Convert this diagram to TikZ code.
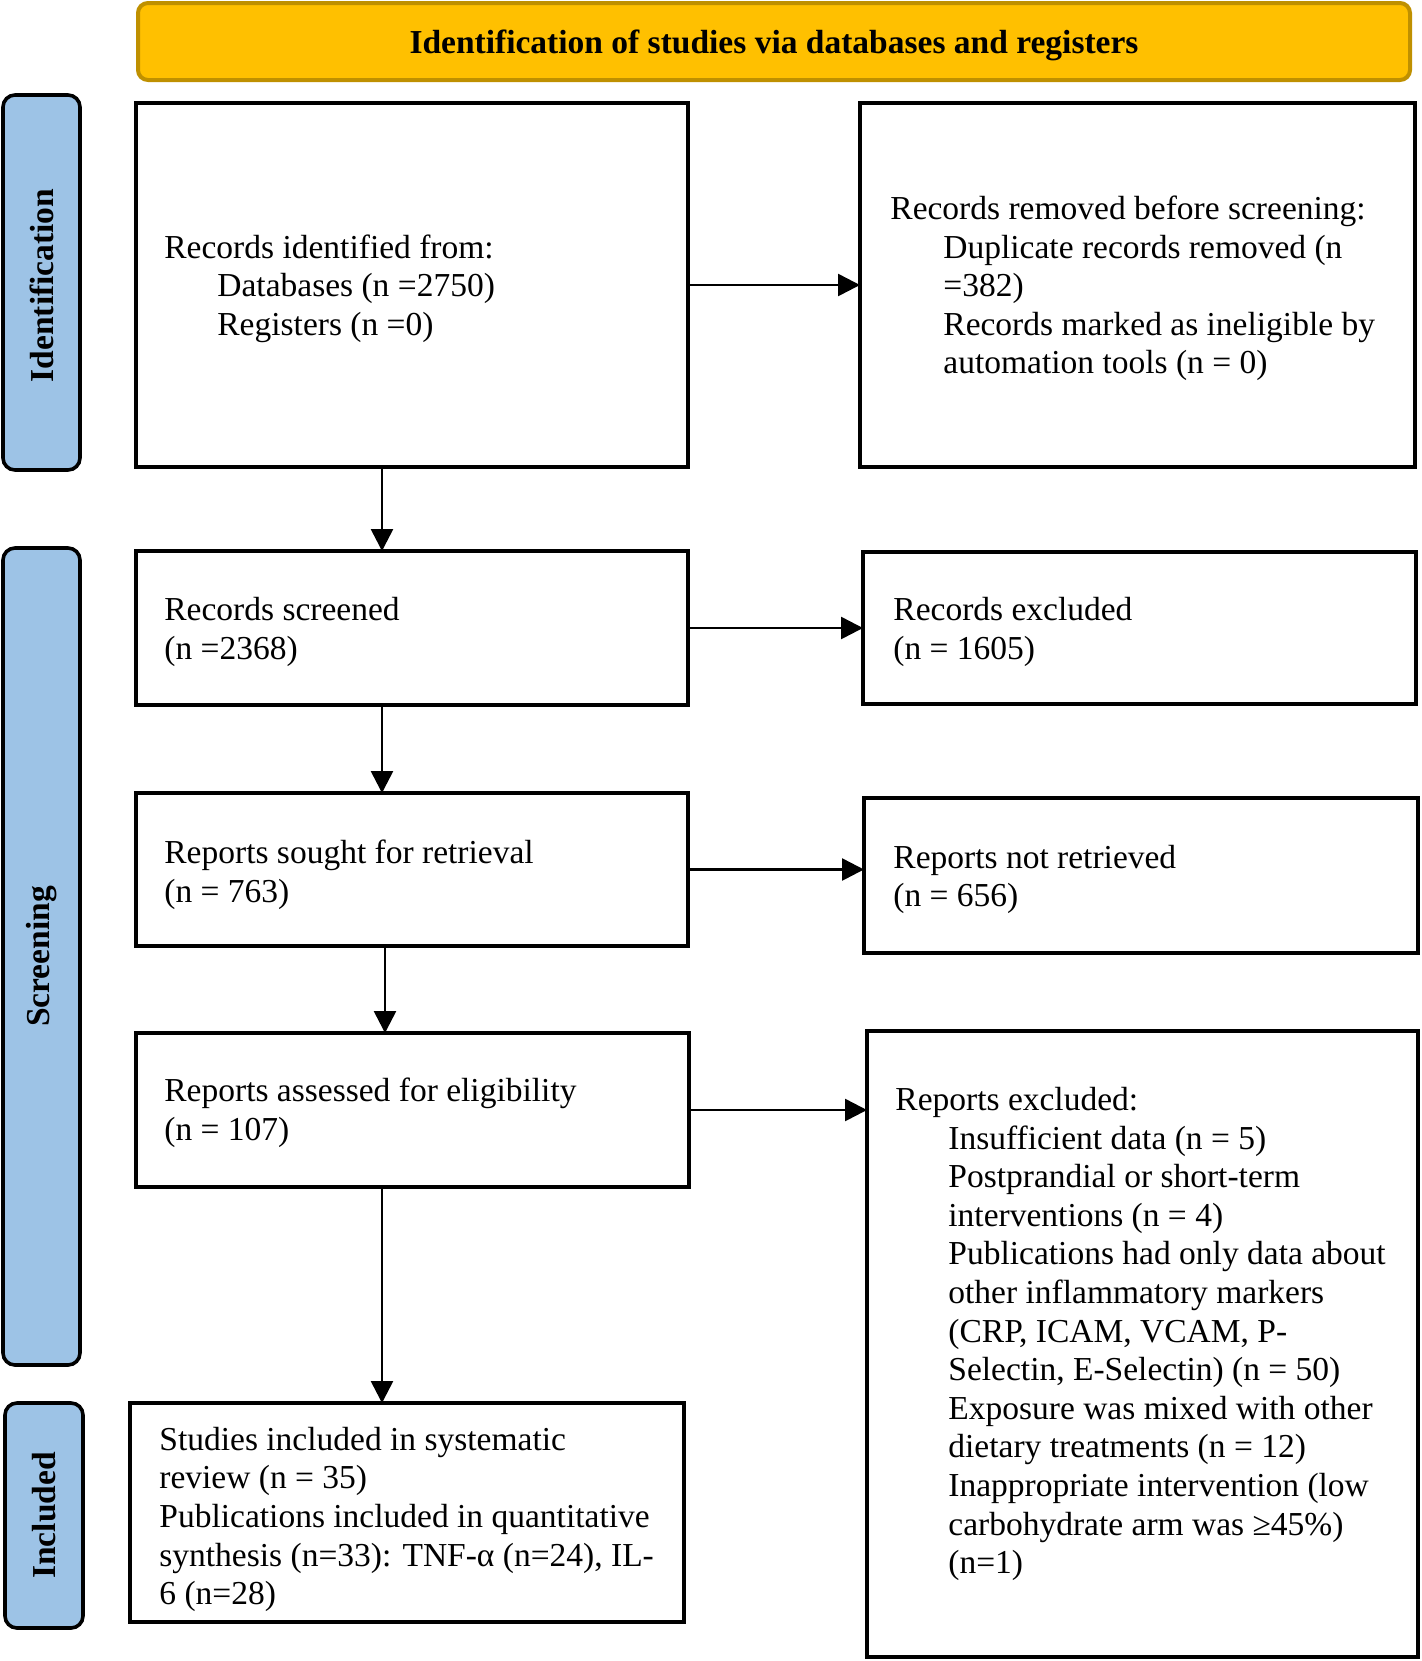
\documentclass[tikz,border=0pt]{standalone}
\usepackage{fontspec}
\setmainfont{Liberation Serif}
\usetikzlibrary{arrows.meta}
\definecolor{gold}{HTML}{FFC000}
\definecolor{goldline}{HTML}{BF9000}
\definecolor{sideblue}{HTML}{9DC3E6}
\begin{document}
\begin{tikzpicture}[x=0.5pt,y=-0.5pt,
  box/.style={draw, line width=2pt, inner sep=0pt, outer sep=0pt},
  txt/.style={anchor=west, align=left, inner sep=0pt, font=\fontsize{16.75pt}{19.3pt}\selectfont},
  side/.style={draw, line width=1.8pt, fill=sideblue, rounded corners=6pt, inner sep=0pt, outer sep=0pt},
  sidetxt/.style={rotate=90, inner sep=0pt, font=\fontsize{16.75pt}{19.3pt}\selectfont\bfseries},
  arr/.style={line width=1.3pt, -{Triangle[length=11pt,width=11pt]}}]
\useasboundingbox (0,0) rectangle (1421,1661);

% banner
\node[draw=goldline, line width=2pt, fill=gold, rounded corners=5pt, inner sep=0pt,
      minimum width=636pt, minimum height=38.5pt] (banner) at (774,41.5) {};
\node[inner sep=0pt, font=\fontsize{16.75pt}{19.3pt}\selectfont\bfseries] (bannert) at (774,45.5)
      {Identification of studies via databases and registers};

% side bars
\node[side, minimum width=38.5pt, minimum height=187.5pt] (s1) at (41.5,282.5) {};
\node[sidetxt] (s1t) at ([yshift=-1.5pt]s1.center) {Identification};
\node[side, minimum width=38.5pt, minimum height=408.5pt] (s2) at (41.5,956.5) {};
\node[sidetxt] (s2t) at (s2.center) {Screening};
\node[side, minimum width=39pt, minimum height=112.5pt] (s3) at (44,1515.5) {};
\node[sidetxt] (s3t) at (s3.center) {Included};

% boxes
\node[box, minimum width=276pt, minimum height=182pt] (b1) at (412,285) {};
\node[box, minimum width=277.5pt, minimum height=182pt] (b2) at (1137.5,285) {};
\node[box, minimum width=276pt, minimum height=77pt] (b3) at (412,628) {};
\node[box, minimum width=276.5pt, minimum height=76pt] (b4) at (1139.5,628) {};
\node[box, minimum width=276pt, minimum height=76.5pt] (b5) at (412,869.5) {};
\node[box, minimum width=277pt, minimum height=77.5pt] (b6) at (1141,875.5) {};
\node[box, minimum width=276.5pt, minimum height=77pt] (b7) at (412.5,1110) {};
\node[box, minimum width=275.5pt, minimum height=313pt] (b8) at (1142.5,1344) {};
\node[box, minimum width=277pt, minimum height=109.5pt] (b9) at (407,1512.5) {};

% texts
\node[txt] (t1) at (164,288.5) {Records identified from:\\\hspace*{26.5pt}Databases (n =2750)\\\hspace*{26.5pt}Registers (n =0)};
\node[txt] (t2) at (890,288.5) {Records removed before screening:\\\hspace*{26.5pt}Duplicate records removed (n\\\hspace*{26.5pt}=382)\\\hspace*{26.5pt}Records marked as ineligible by\\\hspace*{26.5pt}automation tools (n = 0)};
\node[txt] (t3) at (164,632) {Records screened\\(n =2368)};
\node[txt] (t4) at (893,632) {Records excluded\\(n = 1605)};
\node[txt] (t5) at (164,874.5) {Reports sought for retrieval\\(n = 763)};
\node[txt] (t6) at (893,879.5) {Reports not retrieved\\(n = 656)};
\node[txt] (t7) at (164,1113) {Reports assessed for eligibility\\(n = 107)};
\node[txt] (t8) at (895,1334) {Reports excluded:\\
\hspace*{26.5pt}Insufficient data (n = 5)\\
\hspace*{26.5pt}Postprandial or short-term\\
\hspace*{26.5pt}interventions (n = 4)\\
\hspace*{26.5pt}Publications had only data about\\
\hspace*{26.5pt}other inflammatory markers\\
\hspace*{26.5pt}(CRP, ICAM, VCAM, P-\\
\hspace*{26.5pt}Selectin, E-Selectin) (n = 50)\\
\hspace*{26.5pt}Exposure was mixed with other\\
\hspace*{26.5pt}dietary treatments (n = 12)\\
\hspace*{26.5pt}Inappropriate intervention (low\\
\hspace*{26.5pt}carbohydrate arm was ≥45\%)\\
\hspace*{26.5pt}(n=1)};
\node[txt] (t9) at (159,1519.5) {Studies included in systematic\\review (n = 35)\\Publications included in quantitative\\synthesis (n=33): TNF-α (n=24), IL-\\6 (n=28)};

% connectors
\coordinate (cx) at (382,0);
\coordinate (cx2) at (385,0);
\draw[arr] (b1.east) -- (b1.east -| b2.west);
\draw[arr] (b3.east) -- (b3.east -| b4.west);
\draw[arr] (b5.east) -- (b5.east -| b6.west);
\draw[arr] (b7.east) -- (b7.east -| b8.west);
\draw[arr] (b1.south -| cx) -- (b3.north -| cx);
\draw[arr] (b3.south -| cx) -- (b5.north -| cx);
\draw[arr] (b5.south -| cx2) -- (b7.north -| cx2);
\draw[arr] (b7.south -| cx) -- (b9.north -| cx);
\end{tikzpicture}
\end{document}
